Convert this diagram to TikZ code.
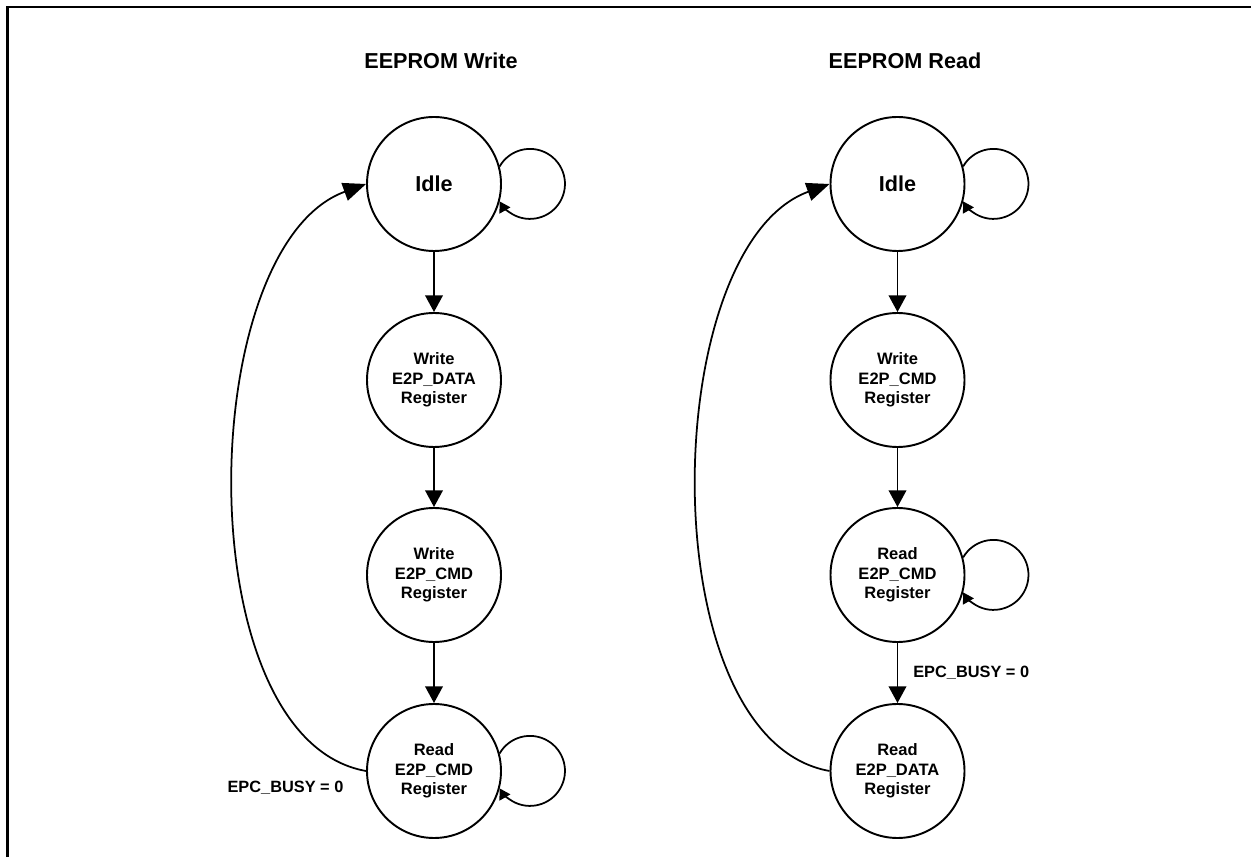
\documentclass[tikz,border=0pt]{standalone}
\usepackage{fontspec}
\setmainfont{Liberation Sans}
\usetikzlibrary{arrows.meta}

\begin{document}
\begin{tikzpicture}[
  state/.style={circle, draw, line width=1.1pt, minimum size=2.68cm, inner sep=0pt,
    align=center, font=\fontsize{9.4}{11.1}\selectfont\bfseries},
  big/.style={font=\fontsize{12.3}{14}\selectfont\bfseries},
  arr/.style={line width=1.1pt, -{Triangle[length=9.5pt,width=10pt]}},
  back/.style={line width=1pt, -{Triangle[length=13pt,width=10.5pt]}},
  selfloop/.style={line width=1pt, -{Triangle[length=6pt,width=7pt]}},
  cond/.style={font=\fontsize{9.3}{11}\selectfont\bfseries}]
  \useasboundingbox (0,0) rectangle (25.02,17.14);
  \draw[line width=1.4pt] (0.15,0) -- (0.15,17.0) -- (25.02,17.0); % frame

  % write side
  \node[big] (ttlW) at (8.82,15.92) {EEPROM Write};
  \node[state, big] (idleW)  at (8.68,13.46) {Idle};
  \node[state] (wdataW) at (8.68,9.54) {Write\\E2P\_DATA\\Register};
  \node[state] (wcmdW)  at (8.68,5.64) {Write\\E2P\_CMD\\Register};
  \node[state] (rcmdW)  at (8.68,1.72) {Read\\E2P\_CMD\\Register};
  \node[cond] (busyW) at (5.71,1.38) {EPC\_BUSY = 0};

  \draw[arr] (idleW) -- (wdataW);
  \draw[arr] (wdataW) -- (wcmdW);
  \draw[arr] (wcmdW) -- (rcmdW);
  \draw[selfloop] (idleW.15) arc[start angle=150, end angle=-150, radius=0.7];
  \draw[selfloop] (rcmdW.15) arc[start angle=150, end angle=-150, radius=0.7];
  \draw[back] (rcmdW.west) to[out=170, in=200, looseness=0.8] (idleW.west);

  % read side
  \node[big] (ttlR) at (18.1,15.92) {EEPROM Read};
  \node[state, big] (idleR)  at (17.95,13.46) {Idle};
  \node[state] (wcmdR)  at (17.95,9.54) {Write\\E2P\_CMD\\Register};
  \node[state] (rcmdR)  at (17.95,5.64) {Read\\E2P\_CMD\\Register};
  \node[state] (rdataR) at (17.95,1.72) {Read\\E2P\_DATA\\Register};

  \draw[arr] (idleR) -- (wcmdR);
  \draw[arr] (wcmdR) -- (rcmdR);
  \draw[arr] (rcmdR) -- node[cond, anchor=west, xshift=0.18cm] (busyR) {EPC\_BUSY = 0} (rdataR);
  \draw[selfloop] (idleR.15) arc[start angle=150, end angle=-150, radius=0.7];
  \draw[selfloop] (rcmdR.15) arc[start angle=150, end angle=-150, radius=0.7];
  \draw[back] (rdataR.west) to[out=170, in=200, looseness=0.8] (idleR.west);

\end{tikzpicture}
\end{document}
